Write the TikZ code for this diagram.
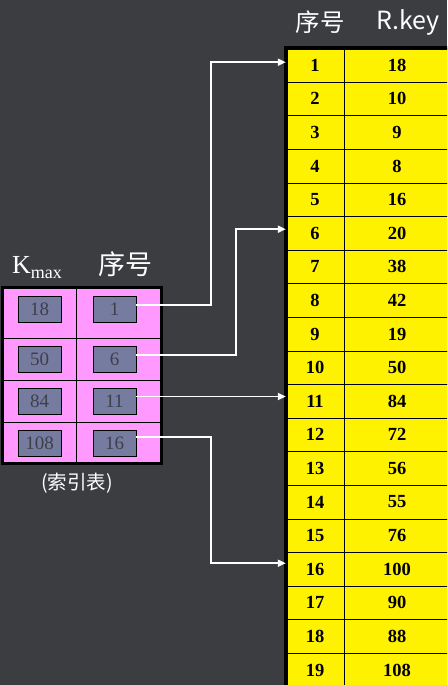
\documentclass[tikz,border=0pt]{standalone}
\usepackage{fontspec}
\usetikzlibrary{arrows.meta}
\setmainfont{Liberation Serif}
\newfontfamily\cjk{Noto Sans CJK SC}
\definecolor{bgdark}{HTML}{3C3D41}
\definecolor{idxpink}{HTML}{FF99FF}
\definecolor{idxslate}{HTML}{767BA0}
\definecolor{idxtext}{HTML}{3F3F4A}
\tikzset{
  nocell/.style={draw=black, fill=yellow, minimum width=58pt, minimum height=33.6pt,
    inner sep=0pt, font=\fontsize{18.5}{18.5}\selectfont\bfseries},
  keycell/.style={nocell, minimum width=106pt},
  idxbox/.style={draw=black, fill=idxslate, minimum width=43pt, minimum height=26pt,
    inner sep=0pt, text=idxtext, font=\fontsize{19}{19}\selectfont},
  link/.style={draw=white, line width=1.8pt, -{Triangle[length=8pt,width=7pt]}},
  head/.style={text=white, inner sep=0pt}
}
\begin{document}
\begin{tikzpicture}[x=1pt, y=-1pt]
	    \useasboundingbox (0,0) rectangle (447,685);
	    \fill[bgdark] (0,0) rectangle (447,685);
	    \begin{scope}
	    \clip (0,0) rectangle (447,685);
	    
	    % big table (numbers and keys)
	    \node[head, font=\cjk\fontsize{24.5}{24.5}\selectfont] (nohead) at (320,22) {序号};
	    \node[head, font=\cjk\fontsize{25}{25}\selectfont] (keyhead) at (408,22) {R.key};
	    \foreach \k [count=\i] in {18,10,9,8,16,20,38,42,19,50,84,72,56,55,76,100,90,88,108} {
	        \node[nocell] (no\i) at (315,{48.4+(\i-0.5)*33.6}) {\i};
	        \node[keycell] (key\i) at (397,{48.4+(\i-0.5)*33.6}) {\k};
	    }
	    \draw[line width=4pt] (no19.south west) -- (no1.north west) -- (key1.north east);
	    \end{scope}
	    
	    % index table
	    \node[head, font=\fontsize{26}{26}\selectfont, anchor=base] (kmaxhead) at (37,273)
	        {K\raisebox{-5pt}{\fontsize{18}{18}\selectfont max}};
	    \node[head, font=\cjk\fontsize{27}{27}\selectfont] (idxhead) at (125,264) {序号};
	    \fill[idxpink] (2,287) rectangle (161,463);
	    \foreach \y in {338,380,422} \draw[thick] (2,\y) -- (161,\y);
	    \draw[thick] (76,287) -- (76,463);
	    \draw[line width=3pt] (2,287) rectangle (161,463);
	    \foreach \k/\n/\y [count=\i] in {18/1/309, 50/6/359, 84/11/401, 108/16/443} {
	        \node[idxbox] (kmax\i) at (39.5,\y) {\k};
	        \node[idxbox] (idx\i) at (114.5,\y) {\n};
	    }
	    \node[head, font=\cjk\fontsize{19.5}{19.5}\selectfont] (idxname) at (77,483) {(索引表)};
	    
	    % pointers
	    \draw[link] ([yshift=4pt]idx1.east) -- ++(75,0) |- ([yshift=3pt]no1.west);
	    \draw[link] ([yshift=4pt]idx2.east) -- ++(100,0) |- ([yshift=4pt]no6.west);
	    \draw[link] ([yshift=4.5pt]idx3.east) -- ([yshift=4.5pt]idx3.east -| no11.west);
	    \draw[link] ([yshift=6pt]idx4.east) -- ++(75,0) |- ([yshift=6pt]no16.west);
	    
	    \end{tikzpicture}
\end{document}
